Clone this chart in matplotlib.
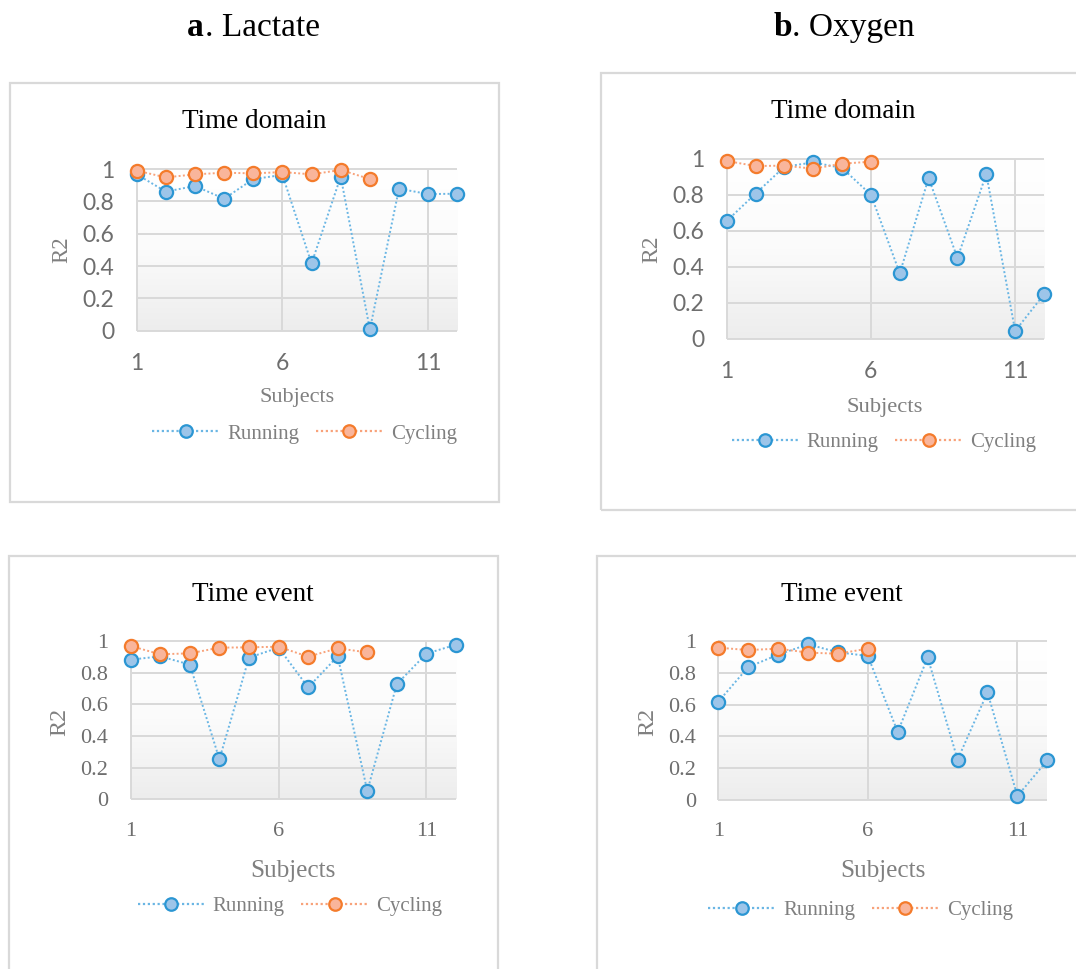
import numpy as np
import matplotlib
matplotlib.use("Agg")
import matplotlib.pyplot as plt
from matplotlib.patches import Rectangle
from matplotlib.lines import Line2D
from matplotlib.colors import LinearSegmentedColormap

# values (R2 per subject)
lac_domain_running = [0.967, 0.86, 0.895, 0.816, 0.938, 0.963, 0.416, 0.953, 0.008, 0.878, 0.845, 0.847]
lac_domain_cycling = [0.99, 0.948, 0.967, 0.977, 0.973, 0.981, 0.967, 0.994, 0.938]
oxy_domain_running = [0.655, 0.807, 0.957, 0.981, 0.95, 0.801, 0.364, 0.894, 0.449, 0.917, 0.043, 0.247]
oxy_domain_cycling = [0.989, 0.961, 0.963, 0.946, 0.974, 0.985]
lac_event_running = [0.882, 0.903, 0.851, 0.253, 0.895, 0.958, 0.707, 0.903, 0.053, 0.728, 0.92, 0.977]
lac_event_cycling = [0.968, 0.916, 0.922, 0.958, 0.96, 0.964, 0.901, 0.954, 0.928]
oxy_event_running = [0.618, 0.836, 0.914, 0.979, 0.929, 0.906, 0.428, 0.897, 0.254, 0.677, 0.025, 0.249]
oxy_event_cycling = [0.958, 0.943, 0.952, 0.927, 0.92, 0.952]

yticks = [0, 0.2, 0.4, 0.6, 0.8, 1]
ytick_labels = ["0", "0.2", "0.4", "0.6", "0.8", "1"]
xticks = [1, 6, 11]

W, H = 1076, 969
SERIF = "Liberation Serif"
SANS = "Lato"
GRID = "#d9d9d9"
RUN_EDGE, RUN_FACE, RUN_LINE = "#2b96d3", "#9dc5e9", "#6ab6e4"
CYC_EDGE, CYC_FACE, CYC_LINE = "#f47b2b", "#f9b59b", "#f8a27a"

fig = plt.figure(figsize=(W / 100, H / 100), dpi=100)
fig.patch.set_facecolor("white")


def fx(px):
    return px / W


def fy(py):
    return 1 - py / H


bg_cmap = LinearSegmentedColormap.from_list("bg", ["#ffffff", "#fbfbfb", "#ededed"])


def box(x0, y0, x1, y1):
    fig.patches.append(Rectangle((fx(x0), fy(y1)), fx(x1) - fx(x0), (y1 - y0) / H,
                                 transform=fig.transFigure, fill=False,
                                 edgecolor=GRID, lw=1.6))


def panel(rect, running, cycling, title, title_pos, subj_pos, r2_pos, leg_pos, tick_font):
    x0, ytop, x1, ybot = rect
    ax = fig.add_axes([fx(x0), fy(ybot), fx(x1) - fx(x0), (ybot - ytop) / H])
    ax.set_xlim(1, 12)
    ax.set_ylim(0, 1)
    grad = np.linspace(0, 1, 256).reshape(-1, 1)
    ax.imshow(grad, extent=[1, 12, 0, 1], aspect="auto", cmap=bg_cmap, origin="upper", zorder=0)
    ax.hlines(yticks, 1, 12, color=GRID, lw=1.4, zorder=1, clip_on=False)
    ax.vlines(xticks, 0, 1, color=GRID, lw=1.4, zorder=1, clip_on=False)
    for s in ax.spines.values():
        s.set_visible(False)
    ax.set_xticks(xticks)
    ax.set_xticklabels([str(t) for t in xticks])
    ax.set_yticks(yticks)
    ax.set_yticklabels(ytick_labels)
    ax.tick_params(length=0, pad=16, labelsize=16 if tick_font == SERIF else 16.5, labelcolor="#6e6e6e")
    for lab in ax.get_xticklabels() + ax.get_yticklabels():
        lab.set_fontfamily(tick_font)

    xr = np.arange(1, len(running) + 1)
    xc = np.arange(1, len(cycling) + 1)
    ax.plot(xr, running, linestyle=(0, (1, 1.2)), lw=1.4, color=RUN_LINE, marker="o", ms=9.5,
            mfc=RUN_FACE, mec=RUN_EDGE, mew=1.6, clip_on=False, zorder=3)
    ax.plot(xc, cycling, linestyle=(0, (1, 1.2)), lw=1.4, color=CYC_LINE, marker="o", ms=9.5,
            mfc=CYC_FACE, mec=CYC_EDGE, mew=1.6, clip_on=False, zorder=4)

    fig.text(fx(title_pos[0]), fy(title_pos[1]), title, ha="center", va="baseline",
             family=SERIF, fontsize=19.5, color="black")
    fig.text(fx(subj_pos[0]), fy(subj_pos[1]), "Subjects", ha="center", va="center",
             family=SERIF, fontsize=subj_pos[2], color="#808080")
    fig.text(fx(r2_pos[0]), fy(r2_pos[1]), "R2", ha="center", va="center", rotation=90,
             family=SERIF, fontsize=r2_pos[2], color="#808080")

    handles = [
        Line2D([], [], linestyle=(0, (1, 1.2)), lw=1.6, color=RUN_LINE, marker="o", ms=9,
               mfc=RUN_FACE, mec=RUN_EDGE, mew=1.6),
        Line2D([], [], linestyle=(0, (1, 1.2)), lw=1.6, color=CYC_LINE, marker="o", ms=9,
               mfc=CYC_FACE, mec=CYC_EDGE, mew=1.6),
    ]
    leg = fig.legend(handles, ["Running", "Cycling"], loc="center", ncol=2,
                     bbox_to_anchor=(fx(leg_pos[0]), fy(leg_pos[1])), frameon=False,
                     prop={"family": SERIF, "size": 15}, handlelength=3.2,
                     handletextpad=0.4, columnspacing=0.8, borderpad=0, borderaxespad=0)
    for t in leg.get_texts():
        t.set_color("#808080")
    return ax


# panel frames
box(10, 83, 498.7, 502)
box(600.7, 73.3, 1085, 510.3)
box(9, 555.7, 497.7, 980)
box(596.7, 555.7, 1085, 980)

# column headers
fig.text(fx(204), fy(36), "a", ha="right", va="baseline", family=SERIF, fontsize=24, weight="bold")
fig.text(fx(205), fy(36), ". Lactate", ha="left", va="baseline", family=SERIF, fontsize=24)
fig.text(fx(792), fy(36), "b", ha="right", va="baseline", family=SERIF, fontsize=24, weight="bold")
fig.text(fx(792.5), fy(36), ". Oxygen", ha="left", va="baseline", family=SERIF, fontsize=24)

panel((136.7, 169, 457.3, 330.7), lac_domain_running, lac_domain_cycling, "Time domain",
      (254.5, 128.3), (296.7, 398, 16), (61.7, 250, 16.4), (304.5, 434), SANS)
panel((726.7, 159, 1044, 338.7), oxy_domain_running, oxy_domain_cycling, "Time domain",
      (843, 118.3), (885, 407.3, 16.2), (651.7, 249, 17), (884, 442.7), SANS)
panel((130.7, 641, 456, 799.3), lac_event_running, lac_event_cycling, "Time event",
      (252.7, 600.7), (292.7, 870.7, 18.2), (59.3, 722, 17.4), (290, 906.7), SERIF)
panel((718.3, 641, 1047.3, 800), oxy_event_running, oxy_event_cycling, "Time event",
      (842, 600.7), (882.7, 870.7, 18.2), (647.3, 722, 17.4), (860.8, 910), SERIF)

fig.savefig("out.png", dpi=100)
